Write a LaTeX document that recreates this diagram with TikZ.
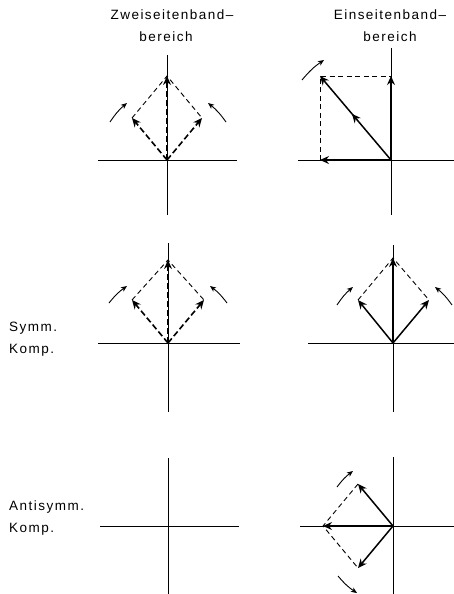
\documentclass[tikz,border=0pt]{standalone}
\usepackage{fontspec}
\newfontfamily\beschrfont[LetterSpace=11]{Liberation Sans}
\usetikzlibrary{arrows.meta,decorations.markings}
\begin{document}
\begin{tikzpicture}[x=1pt,y=-1pt,
  achse/.style={line width=0.9pt},
  zeiger/.style={line width=1.5pt,-{Stealth[length=9pt,width=8pt,inset=3pt]}},
  zeigerdash/.style={line width=1.6pt,dash pattern=on 6pt off 3pt,-{Stealth[length=9pt,width=8pt,inset=3pt]}},
  hilfslinie/.style={line width=0.9pt,dash pattern=on 5pt off 3.5pt},
  dreh/.style={line width=0.9pt,-{Stealth[length=6pt,width=5pt,inset=1.5pt]}},
  beschr/.style={font=\beschrfont\fontsize{13.5}{16}\selectfont,inner sep=0pt}]
\useasboundingbox (0,0) rectangle (454,594);
% Ueberschriften
\node[beschr,anchor=base] (zsb) at (172,20) {Zweiseitenband–};
\node[beschr,anchor=base] (zsbb) at (166,42) {bereich};
\node[beschr,anchor=base] (esb) at (390,20) {Einseitenband–};
\node[beschr,anchor=base] (esbb) at (390,42) {bereich};
\node[beschr,anchor=base west] (symm) at (9,331) {Symm.};
\node[beschr,anchor=base west] (symmk) at (9,353) {Komp.};
\node[beschr,anchor=base west] (asymm) at (9,510) {Antisymm.};
\node[beschr,anchor=base west] (asymmk) at (9,532) {Komp.};
% ---- Zweiseitenband, oben
\coordinate (O1) at (167,160);
\draw[achse] (167,55) -- (167,215);
\draw[achse] (98,160) -- (237,160);
\coordinate (A1) at (132,118);
\coordinate (B1) at (202,118);
\coordinate (C1) at (167,76);
\draw[hilfslinie] (A1) -- (C1) -- (B1);
\draw[zeigerdash] (O1) -- (A1);
\draw[zeigerdash] (O1) -- (B1);
\draw[zeigerdash] (O1) -- (C1);
\draw[dreh] (110,122) to[bend left=8] (127,103);
\draw[dreh] (226,122) to[bend right=8] (208,103);
% ---- Einseitenband, oben
\coordinate (O2) at (391,160);
\draw[achse] (391,48) -- (391,215);
\draw[achse] (298,160) -- (454,160);
\coordinate (A2) at (320,160);
\coordinate (B2) at (320,76);
\coordinate (C2) at (391,76);
\draw[hilfslinie] (A2) -- (B2) -- (C2);
\draw[zeiger] (O2) -- (A2);
\draw[zeiger] (O2) -- (C2);
\draw[zeiger,postaction={decorate},decoration={markings,
  mark=at position 0.55 with {\arrow{Stealth[length=9pt,width=8pt,inset=3pt]}}}] (O2) -- (B2);
\draw[dreh] (302,80) to[bend left=8] (324,60);
% ---- Zweiseitenband, symmetrisch
\coordinate (O3) at (168,343);
\draw[achse] (168,243) -- (168,412);
\draw[achse] (98,343) -- (240,343);
\coordinate (A3) at (132,300);
\coordinate (B3) at (204,300);
\coordinate (C3) at (168,260);
\draw[hilfslinie] (A3) -- (C3) -- (B3);
\draw[zeigerdash] (O3) -- (A3);
\draw[zeigerdash] (O3) -- (B3);
\draw[zeigerdash] (O3) -- (C3);
\draw[dreh] (109,303) to[bend left=8] (127,286);
\draw[dreh] (227,303) to[bend right=8] (210,286);
% ---- Einseitenband, symmetrisch
\coordinate (O4) at (393,343);
\draw[achse] (393,245) -- (393,412);
\draw[achse] (308,343) -- (454,343);
\coordinate (A4) at (358,300);
\coordinate (B4) at (429,300);
\coordinate (C4) at (393,258);
\draw[hilfslinie] (A4) -- (C4) -- (B4);
\draw[zeiger] (O4) -- (A4);
\draw[zeiger] (O4) -- (B4);
\draw[zeiger] (O4) -- (C4);
\draw[dreh] (337,305) to[bend left=8] (353,287);
\draw[dreh] (452,305) to[bend right=8] (435,287);
% ---- Zweiseitenband, antisymmetrisch
\draw[achse] (168,458) -- (168,594);
\draw[achse] (100,526) -- (239,526);
% ---- Einseitenband, antisymmetrisch
\coordinate (O6) at (393,526);
\draw[achse] (393,457) -- (393,594);
\draw[achse] (300,526) -- (454,526);
\coordinate (A6) at (358,484);
\coordinate (B6) at (358,568);
\coordinate (C6) at (323,526);
\draw[hilfslinie] (A6) -- (C6) -- (B6);
\draw[zeiger] (O6) -- (A6);
\draw[zeiger] (O6) -- (B6);
\draw[zeiger] (O6) -- (C6);
\draw[dreh] (337,487) to[bend left=8] (353,471);
\draw[dreh] (338,576) to[bend right=8] (357,593);
\end{tikzpicture}
\end{document}
